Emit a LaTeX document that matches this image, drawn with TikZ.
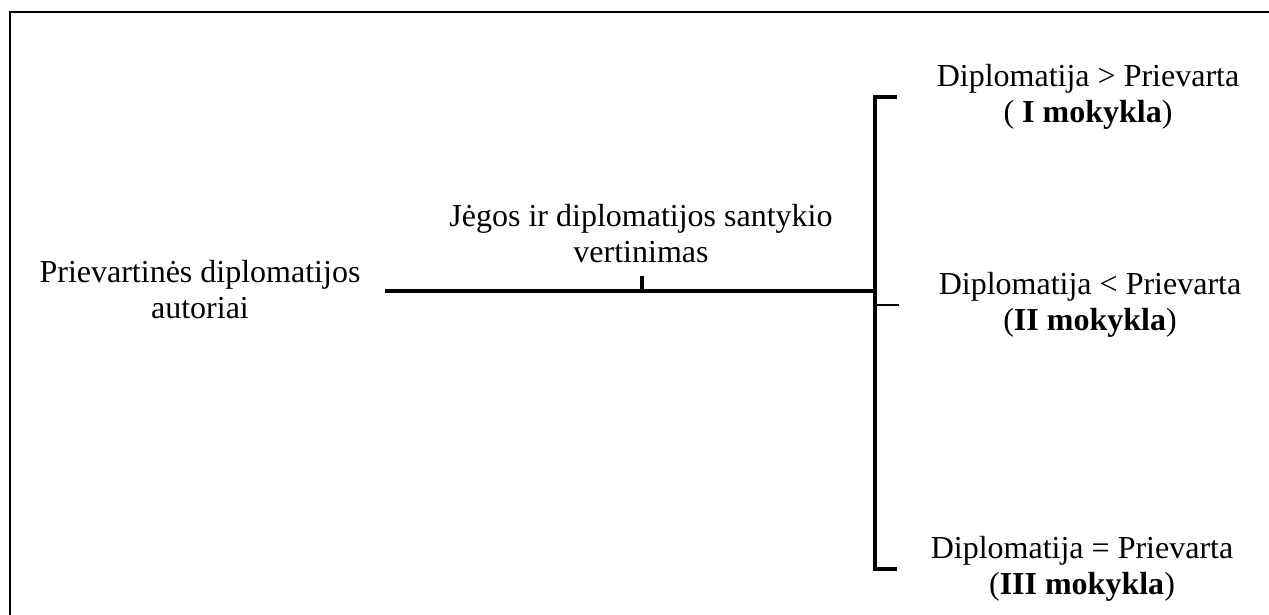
\documentclass[tikz,border=0pt]{standalone}
\usepackage{fontspec}
\setmainfont{Liberation Serif}
\begin{document}
\begin{tikzpicture}[x=0.5pt,y=-0.5pt]
\tikzstyle{every node}=[align=center,inner sep=0pt,font=\fontsize{16}{18}\selectfont];
\tikzstyle{frame}=[line width=1pt];
\tikzstyle{trunk}=[line width=2.2pt];
\tikzstyle{branch}=[line width=1.6pt];
\useasboundingbox (0,0) rectangle (1269,615);
\draw[frame] (10,615) -- (10,12) -- (1269,12);
\node (authors) at (200,290) {Prievartinės diplomatijos\\autoriai};
\node (ratio) at (641,234) {Jėgos ir diplomatijos santykio\\vertinimas};
\node (school1) at (1088,97) {Diplomatija > Prievarta\\( \textbf{I mokykla})};
\node (school2) at (1090,305) {Diplomatija < Prievarta\\(\textbf{II mokykla})};
\node (school3) at (1082,569) {Diplomatija = Prievarta\\(\textbf{III mokykla})};
\coordinate (root) at (385,291);
\coordinate (fork) at (875,291);
\coordinate (tick) at (642,276);
\draw[trunk] (root) -- (fork);
\draw[line width=2pt] (tick) -- (tick |- fork);
\draw[line width=1.9pt] ([yshift=0.8pt]fork |- school1) -- ([yshift=-0.8pt]fork |- school3);
\draw[branch] ([xshift=-0.9pt]fork |- school1) -- ++(24,0);
\draw[line width=1.3pt] (fork |- school2) -- ++(24,0);
\draw[branch] ([xshift=-0.9pt]fork |- school3) -- ++(24,0);
\end{tikzpicture}
\end{document}
